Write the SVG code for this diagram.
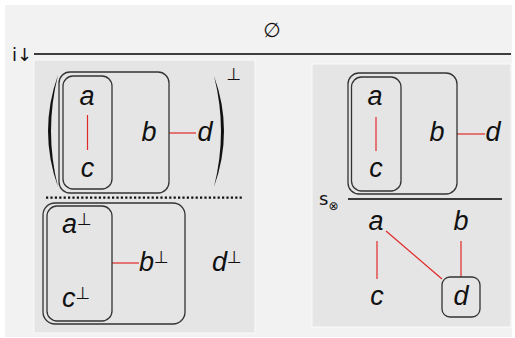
<svg xmlns="http://www.w3.org/2000/svg" width="515" height="338" viewBox="0 0 515 338">
<style>
.v{font-family:"Liberation Sans",Arial,sans-serif;font-style:italic;font-size:27px;fill:#111}
.s{font-family:"DejaVu Sans","Liberation Sans",sans-serif;font-style:normal;fill:#111}
.box{fill:none;stroke:#333;stroke-width:1.3}
.e{stroke:#e02828;stroke-width:1.2;fill:none}
.rule{stroke:#000;stroke-width:1.3}
.panel{fill:#e5e5e5;stroke:#fafafa;stroke-width:1}
</style>
<rect x="5" y="5" width="507" height="332" fill="#f2f2f2"/>
<text class="s" x="272" y="37" font-size="20" text-anchor="middle">∅</text>
<line class="rule" x1="34" y1="54" x2="511" y2="54"/>
<text class="s" x="12" y="61" font-size="18">i<tspan x="17">↓</tspan></text>
<rect class="panel" x="34" y="60" width="221" height="273"/>
<rect class="panel" x="312" y="64" width="199" height="263"/>

<g id="connectors">
<line class="e" x1="87.5" y1="115" x2="87.5" y2="150"/>
<line class="e" x1="169" y1="133" x2="196" y2="133"/>
<line class="e" x1="112" y1="263" x2="139" y2="263"/>
<line class="e" x1="376" y1="117" x2="376" y2="151"/>
<line class="e" x1="457" y1="134" x2="485" y2="134"/>
<line class="e" x1="377" y1="241" x2="377" y2="279"/>
<line class="e" x1="386" y1="231" x2="442" y2="279"/>
<line class="e" x1="461" y1="241" x2="461" y2="277"/>
</g>

<g id="left-top">
<path d="M58,75 Q38,131 58,187 Q44,131 58,75 Z" fill="#111"/>
<path d="M214,76 Q234,131 214,187 Q228,131 214,76 Z" fill="#111"/>
<text class="s" x="234" y="80" font-size="17" text-anchor="middle">⊥</text>
<rect class="box" x="59" y="72" width="110" height="121" rx="11"/>
<rect class="box" x="63" y="76" width="49" height="113" rx="10"/>
<text class="v" x="87" y="105" text-anchor="middle">a</text>
<text class="v" x="87.5" y="177" text-anchor="middle">c</text>
<text class="v" x="149" y="141" text-anchor="middle">b</text>
<text class="v" x="205" y="141" text-anchor="middle">d</text>
</g>
<line x1="46" y1="197.7" x2="244" y2="197.7" stroke="#111" stroke-width="2.2" stroke-dasharray="2.2 2.2"/>

<g id="left-bottom">
<rect class="box" x="43" y="203" width="142" height="121" rx="12"/>
<rect class="box" x="47" y="206" width="65" height="115" rx="10"/>
<text class="v" x="62" y="233">a<tspan class="s" font-size="17" dy="-8">⊥</tspan></text>
<text class="v" x="62" y="307">c<tspan class="s" font-size="17" dy="-8">⊥</tspan></text>
<text class="v" x="139" y="271">b<tspan class="s" font-size="17" dy="-8">⊥</tspan></text>
<text class="v" x="212" y="271">d<tspan class="s" font-size="17" dy="-8">⊥</tspan></text>
</g>

<g id="right-top">
<rect class="box" x="348" y="73" width="109" height="121" rx="11"/>
<rect class="box" x="351.5" y="77" width="49.5" height="114" rx="10"/>
<text class="v" x="375" y="105" text-anchor="middle">a</text>
<text class="v" x="376" y="177" text-anchor="middle">c</text>
<text class="v" x="437" y="141" text-anchor="middle">b</text>
<text class="v" x="493" y="141" text-anchor="middle">d</text>
</g>
<line class="rule" x1="348" y1="199" x2="502" y2="199"/>
<text class="s" x="319" y="205" font-size="18">s<tspan font-size="12" dy="5">⊗</tspan></text>

<g id="right-bottom">
<text class="v" x="376" y="230" text-anchor="middle">a</text>
<text class="v" x="461" y="230" text-anchor="middle">b</text>
<text class="v" x="377" y="305" text-anchor="middle">c</text>
<rect class="box" x="442" y="277" width="38" height="40" rx="8"/>
<text class="v" x="461" y="305" text-anchor="middle">d</text>
</g>
</svg>
